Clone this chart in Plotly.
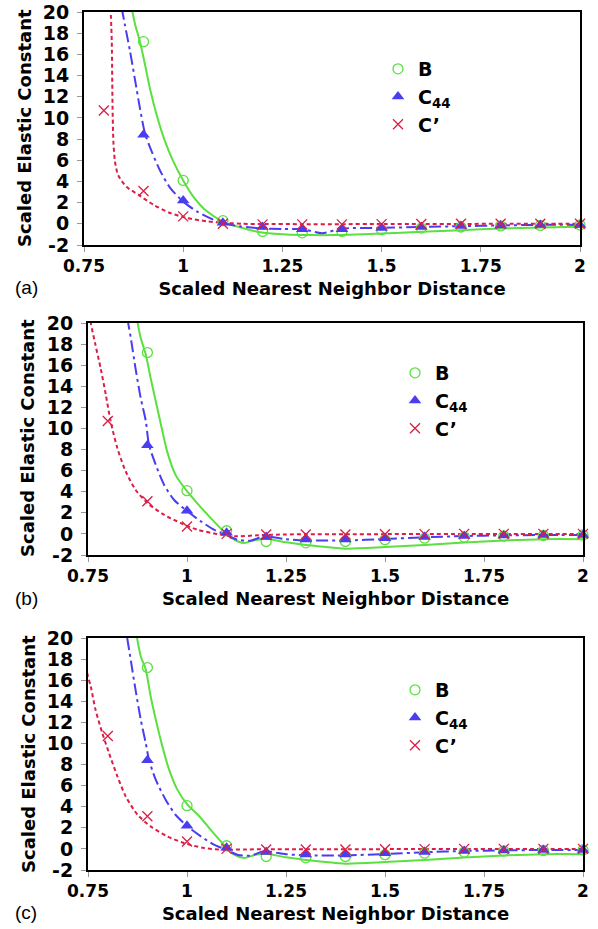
import plotly.graph_objects as go

# ---- computed elastic constants (same data set in every panel) ----
x_B = [0.9, 1.0, 1.1, 1.2, 1.3, 1.4, 1.5, 1.6, 1.7, 1.8, 1.9, 2.0]
B_vals = [17.2, 4.1, 0.3, -0.72, -0.85, -0.72, -0.55, -0.4, -0.3, -0.2, -0.15, -0.1]

x_C44 = [0.9, 1.0, 1.1, 1.2, 1.3, 1.4, 1.5, 1.6, 1.7, 1.8, 1.9, 2.0]
C44_vals = [8.4, 2.2, 0.1, -0.3, -0.52, -0.52, -0.4, -0.3, -0.2, -0.15, -0.1, -0.1]

x_Cp = [0.8, 0.9, 1.0, 1.1, 1.2, 1.3, 1.4, 1.5, 1.6, 1.7, 1.8, 1.9, 2.0]
Cp_vals = [10.7, 3.1, 0.7, 0.0, -0.05, -0.05, -0.05, -0.03, -0.02, 0.0, 0.0, 0.0, 0.0]

# ---- fitted curves, panel (a) ----
fa_B_x = [0.870, 0.879, 0.891, 0.904, 0.916, 0.933, 0.954, 0.975, 1.0, 1.025, 1.059,
          1.099, 1.143, 1.194, 1.25, 1.3, 1.35, 1.4, 1.5, 1.6, 1.7, 1.8, 1.9, 2.0]
fa_B_y = [20.4, 18.8, 17.2, 15.0, 12.8, 10.3, 7.8, 5.9, 4.1, 2.6, 1.2,
          0.24, -0.33, -0.8, -0.98, -1.05, -1.07, -1.05, -0.92, -0.76, -0.6, -0.45, -0.34, -0.28]
fa_C44_x = [0.845, 0.853, 0.866, 0.879, 0.891, 0.904, 0.921, 0.942, 0.967, 1.0, 1.034,
            1.076, 1.099, 1.143, 1.194, 1.25, 1.3, 1.35, 1.4, 1.5, 1.6, 1.7, 1.8, 1.9, 2.0]
fa_C44_y = [20.4, 18.8, 16.3, 13.5, 10.9, 8.5, 6.8, 5.0, 3.4, 2.1, 1.18,
            0.39, 0.07, -0.24, -0.42, -0.5, -0.5, -0.88, -0.45, -0.38, -0.3, -0.22, -0.15, -0.1, -0.1]
fa_Cp_x = [0.817, 0.820, 0.821, 0.822, 0.824, 0.828, 0.836, 0.857, 0.887, 0.925, 0.967,
           1.009, 1.059, 1.099, 1.15, 1.2, 1.3, 1.4, 1.5, 1.6, 1.7, 1.8, 1.9, 2.0]
fa_Cp_y = [20.4, 17.2, 14.1, 10.9, 7.8, 5.9, 4.6, 3.5, 2.75, 1.8, 1.02,
           0.55, 0.24, 0.1, 0.0, -0.02, -0.03, -0.03, -0.02, -0.02, -0.01, 0.0, 0.0, 0.0]

# ---- fitted curves, panel (b) ----
fb_B_x = [0.873, 0.883, 0.896, 0.908, 0.921, 0.934, 0.950, 0.971, 0.997, 1.026, 1.060,
          1.093, 1.119, 1.144, 1.169, 1.2, 1.25, 1.3, 1.4, 1.5, 1.6, 1.7, 1.8, 1.9, 2.0]
fb_B_y = [20.5, 18.6, 17.0, 14.8, 12.6, 10.4, 7.8, 5.6, 4.2, 2.9, 1.5,
          0.24, -0.55, -0.86, -0.6, -0.45, -0.8, -1.05, -1.4, -1.25, -1.05, -0.82, -0.62, -0.5, -0.5]
fb_C44_x = [0.849, 0.858, 0.870, 0.883, 0.896, 0.904, 0.921, 0.942, 0.967, 1.001, 1.035,
            1.068, 1.098, 1.127, 1.161, 1.194, 1.25, 1.3, 1.4, 1.5, 1.6, 1.7, 1.8, 1.9, 2.0]
fb_C44_y = [20.5, 18.6, 15.7, 12.9, 10.7, 8.46, 6.56, 4.67, 3.24, 2.14, 1.19,
            0.4, -0.07, -0.55, -0.64, -0.23, -0.5, -0.62, -0.62, -0.48, -0.32, -0.2, -0.14, -0.1, -0.1]
fb_Cp_x = [0.754, 0.757, 0.769, 0.782, 0.795, 0.807, 0.824, 0.845, 0.870, 0.900, 0.942,
           0.984, 1.026, 1.077, 1.127, 1.178, 1.25, 1.3, 1.4, 1.5, 1.6, 1.7, 1.8, 1.9, 2.0]
fb_Cp_y = [20.8, 20.0, 17.9, 15.7, 13.2, 10.7, 8.15, 5.94, 4.19, 2.93, 1.82,
           1.03, 0.4, -0.01, -0.23, -0.13, -0.05, -0.03, -0.03, -0.02, -0.02, -0.01, 0.0, 0.0, 0.0]

# ---- fitted curves, panel (c) ----
fc_B_x = [0.873, 0.883, 0.896, 0.908, 0.921, 0.938, 0.955, 0.976, 1.001, 1.031, 1.060,
          1.089, 1.119, 1.144, 1.173, 1.2, 1.25, 1.3, 1.4, 1.5, 1.6, 1.7, 1.8, 1.9, 2.0]
fc_B_y = [20.2, 18.3, 17.0, 14.5, 12.3, 9.7, 7.5, 5.6, 4.2, 3.1, 1.8,
          0.56, -0.55, -0.86, -0.55, -0.45, -0.8, -1.05, -1.4, -1.25, -1.05, -0.82, -0.62, -0.5, -0.5]
fc_C44_x = [0.849, 0.858, 0.870, 0.883, 0.896, 0.904, 0.921, 0.946, 0.971, 1.001, 1.035,
            1.068, 1.098, 1.127, 1.161, 1.194, 1.25, 1.3, 1.4, 1.5, 1.6, 1.7, 1.8, 1.9, 2.0]
fc_C44_y = [20.0, 17.9, 15.1, 12.3, 10.0, 8.46, 6.56, 4.67, 3.24, 2.14, 1.19,
            0.4, -0.07, -0.55, -0.64, -0.23, -0.5, -0.62, -0.62, -0.48, -0.32, -0.2, -0.14, -0.1, -0.1]
fc_Cp_x = [0.745, 0.748, 0.757, 0.769, 0.786, 0.803, 0.824, 0.845, 0.875, 0.908, 0.950,
           0.992, 1.043, 1.093, 1.15, 1.2, 1.3, 1.4, 1.5, 1.6, 1.7, 1.8, 1.9, 2.0]
fc_Cp_y = [20.0, 16.7, 15.4, 13.2, 11.0, 9.1, 6.9, 5.0, 3.24, 2.14, 1.19,
           0.56, 0.08, -0.07, -0.05, -0.03, -0.03, -0.03, -0.02, -0.02, -0.01, 0.0, 0.0, 0.0]

x_ticks = [0.75, 1.0, 1.25, 1.5, 1.75, 2.0]
x_tick_text = ["0.75", "1", "1.25", "1.5", "1.75", "2"]
y_ticks = [-2, 0, 2, 4, 6, 8, 10, 12, 14, 16, 18, 20]
y_tick_text = ["-2", "0", "2", "4", "6", "8", "10", "12", "14", "16", "18", "20"]
panel_tags = ["(a)", "(b)", "(c)"]
x_title = "Scaled Nearest Neighbor Distance"
y_title = "Scaled Elastic Constant"

GREEN = "#5BE040"
BLUE = "#4A3CF0"
RED = "#DC1E46"
FONT = "DejaVu Sans"

W, H = 598, 929

fits = [
    (fa_B_x, fa_B_y, fa_C44_x, fa_C44_y, fa_Cp_x, fa_Cp_y),
    (fb_B_x, fb_B_y, fb_C44_x, fb_C44_y, fb_Cp_x, fb_Cp_y),
    (fc_B_x, fc_B_y, fc_C44_x, fc_C44_y, fc_Cp_x, fc_Cp_y),
]

# pixel boxes of the three plot areas: (left, right, top, bottom)
boxes = [(84, 580, 12, 245), (88, 583, 323, 555), (88, 583, 638, 870)]
# legend anchors (left, top) in pixels
legend_pos = [(378, 50), (395, 354), (395, 671)]
# y-title centres and panel tag positions in pixels
ytitle_pos = [(25, 128), (28, 438), (28, 754)]
tag_pos = [(26, 288), (26, 598), (26, 912)]

fig = go.Figure()
layout = {}
annotations = []

title_font = dict(family=FONT, size=18, color="black", weight="bold")

for i in range(3):
    sfx = "" if i == 0 else str(i + 1)
    xa, ya = "x" + sfx, "y" + sfx
    leg = "legend" + sfx
    bx, by, cx, cy, px, py = fits[i]

    # fitted curves
    fig.add_trace(go.Scatter(x=bx, y=by, mode="lines", xaxis=xa, yaxis=ya,
                             line=dict(color=GREEN, width=2, shape="spline", smoothing=0.7),
                             showlegend=False, hoverinfo="skip"))
    fig.add_trace(go.Scatter(x=cx, y=cy, mode="lines", xaxis=xa, yaxis=ya,
                             line=dict(color=BLUE, width=2, dash="12px,4px,3px,4px",
                                       shape="spline", smoothing=0.7),
                             showlegend=False, hoverinfo="skip"))
    fig.add_trace(go.Scatter(x=px, y=py, mode="lines", xaxis=xa, yaxis=ya,
                             line=dict(color=RED, width=2, dash="4px,3px",
                                       shape="spline", smoothing=0.7),
                             showlegend=False, hoverinfo="skip"))

    # computed points
    fig.add_trace(go.Scatter(x=x_B, y=B_vals, mode="markers", name="B", xaxis=xa, yaxis=ya,
                             legend=leg, cliponaxis=False,
                             marker=dict(symbol="circle-open", size=10, color=GREEN,
                                         line=dict(width=1.3, color=GREEN))))
    fig.add_trace(go.Scatter(x=x_C44, y=C44_vals, mode="markers", name="C<sub>44</sub>",
                             xaxis=xa, yaxis=ya, legend=leg, cliponaxis=False,
                             marker=dict(symbol="triangle-up", size=11, color=BLUE)))
    fig.add_trace(go.Scatter(x=x_Cp, y=Cp_vals, mode="markers", name="C\u2019",
                             xaxis=xa, yaxis=ya, legend=leg, cliponaxis=False,
                             marker=dict(symbol="x-thin-open", size=10, color=RED,
                                         line=dict(width=1.3, color=RED))))

    l, r, t, b = boxes[i]
    common = dict(showline=True, mirror=True, linecolor="black", linewidth=2,
                  ticks="outside", ticklen=5, tickcolor="#999999", tickwidth=1,
                  showgrid=False, zeroline=False, fixedrange=True, automargin=False)
    layout["xaxis" + sfx] = dict(common, domain=[l / W, r / W], anchor=ya, range=[0.75, 2.0],
                                 tickmode="array", tickvals=x_ticks, ticktext=x_tick_text,
                                 ticklabelstandoff=0,
                                 tickfont=dict(family=FONT, size=17, color="black", weight="bold"),
                                 title=dict(text=x_title, font=title_font, standoff=7))
    layout["yaxis" + sfx] = dict(common, domain=[1 - b / H, 1 - t / H], anchor=xa, range=[-2, 20],
                                 tickmode="array", tickvals=y_ticks, ticktext=y_tick_text,
                                 ticklabelstandoff=4,
                                 tickfont=dict(family=FONT, size=19, color="black", weight="bold"))
    lx, ly = legend_pos[i]
    layout[leg] = dict(x=lx / W, y=1 - ly / H, xanchor="left", yanchor="top",
                       bgcolor="rgba(0,0,0,0)", borderwidth=0, tracegroupgap=0,
                       font=dict(family=FONT, size=19, color="black", weight="bold"))

    yx, yy = ytitle_pos[i]
    annotations.append(dict(text=y_title, xref="paper", yref="paper",
                            x=yx / W, y=1 - yy / H, showarrow=False, textangle=-90,
                            xanchor="center", yanchor="middle", font=title_font))
    tx, ty = tag_pos[i]
    annotations.append(dict(text=panel_tags[i], xref="paper", yref="paper",
                            x=tx / W, y=1 - ty / H, showarrow=False,
                            xanchor="center", yanchor="middle",
                            font=dict(family="Liberation Sans", size=19, color="black")))

fig.update_layout(width=W, height=H,
                  margin=dict(l=0, r=0, t=0, b=0, pad=0, autoexpand=False),
                  paper_bgcolor="white", plot_bgcolor="white",
                  annotations=annotations, **layout)

fig.write_html("out.html", config={"displayModeBar": False})
